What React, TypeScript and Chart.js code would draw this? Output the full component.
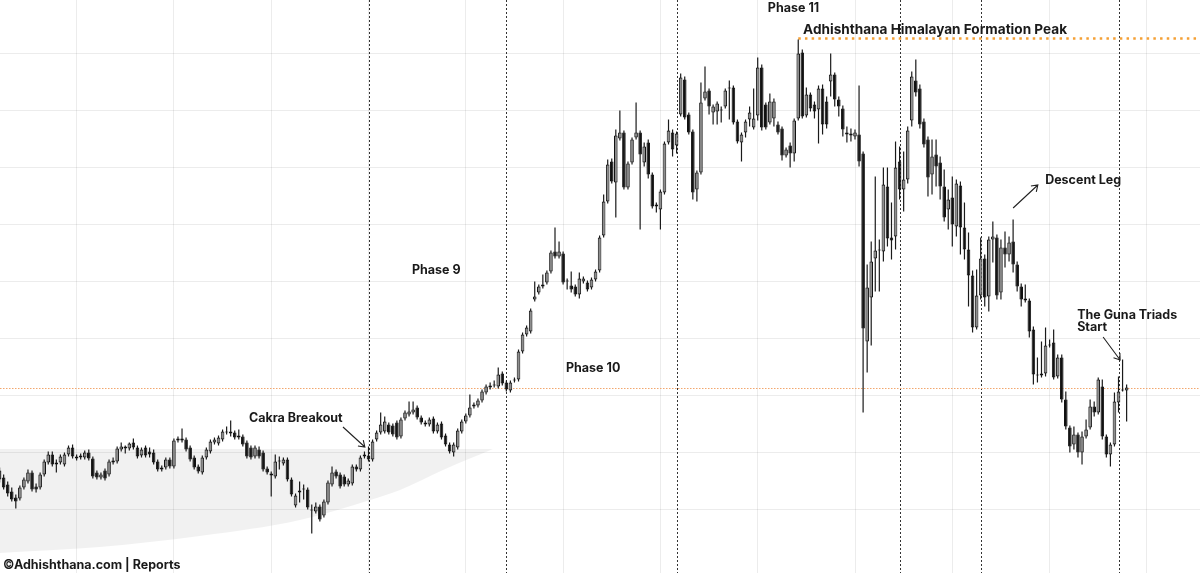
import { useEffect, useRef } from "react";
import { Chart, registerables } from "chart.js";

Chart.register(...registerables);

// ---- OHLC data (one candle per index) ----
const OPEN = [
  96,89,82,75,69,68,79,85,94,80,
  79,92,104,112,104,104,102,112,119,110,
  109,109,114,108,94,89,96,92,104,105,
  117,120,118,124,119,111,119,115,114,105,
  97,99,107,100,126,128,127,119,109,100,
  94,109,115,124,123,127,134,135,134,129,
  130,124,119,110,117,114,98,93,90,105,
  103,107,87,61,74,77,77,57,55,60,
  51,64,82,95,92,90,82,83,100,97,
  110,111,107,127,134,135,142,141,144,130,
  148,152,154,159,149,144,142,148,135,143,
  131,122,114,119,135,145,151,160,161,166,
  174,179,181,180,193,184,176,186,187,215,
  232,235,267,274,280,284,295,315,310,313,
  285,281,280,272,285,284,279,287,296,331,
  365,405,384,428,434,379,404,429,434,404,
  424,392,362,357,374,424,434,421,452,487,
  452,435,377,394,468,476,454,455,457,460,
  478,479,445,424,434,447,439,451,499,462,
  444,448,442,438,411,421,413,448,514,451,
  472,462,457,478,465,485,492,467,458,434,
  431,430,432,413,225,269,308,316,315,380,
  329,330,405,377,387,446,486,478,445,427,
  392,412,404,380,357,369,340,381,339,317,
  291,239,271,308,270,327,329,274,319,312,
  325,302,280,268,266,237,192,191,193,221,
  224,190,209,167,139,122,132,114,130,139,
  160,154,180,130,112,122,164,176,176,
];
const HIGH = [
  99,92,85,79,72,81,89,97,96,83,
  94,107,115,115,107,112,114,121,122,112,
  113,116,117,110,96,94,98,107,109,120,
  124,121,124,128,121,119,121,119,117,107,
  101,109,109,128,130,138,129,121,111,102,
  111,119,127,129,131,137,140,146,136,137,
  132,126,121,121,120,116,100,95,112,110,
  109,109,89,73,85,82,79,62,64,62,
  67,86,100,97,94,92,88,102,102,111,
  115,120,127,136,154,150,144,143,146,149,
  156,165,165,161,151,146,149,150,144,145,
  133,124,124,138,147,153,172,164,168,177,
  182,184,186,199,195,186,186,189,217,234,
  241,258,285,282,292,296,316,339,325,315,
  288,295,282,294,290,286,289,297,331,372,
  407,408,437,456,436,405,429,464,436,424,
  427,394,364,377,425,447,437,435,493,490,
  454,437,396,484,500,478,462,465,460,478,
  486,481,447,434,447,460,478,509,502,464,
  473,468,445,440,419,424,448,527,517,479,
  474,465,481,482,470,513,494,470,461,440,
  438,437,481,415,302,325,390,327,399,399,
  364,425,420,415,440,495,507,482,448,430,
  427,427,410,397,377,390,387,385,364,334,
  296,297,329,312,330,345,332,327,335,330,
  347,305,283,282,268,240,209,225,239,227,
  237,212,212,175,141,140,134,135,147,167,
  165,189,187,132,124,174,190,207,182,
];
const LOW = [
  84,77,70,65,58,66,77,83,75,74,
  77,90,102,100,94,102,100,110,108,106,
  107,107,106,88,87,87,86,90,102,103,
  115,113,116,117,108,109,109,109,102,95,
  95,97,98,98,124,124,115,105,97,93,
  92,107,113,122,121,125,132,130,127,127,
  120,108,107,108,108,95,92,70,88,97,
  101,85,70,59,64,67,57,33,53,45,
  49,62,80,88,78,80,80,81,95,95,
  108,105,105,125,132,133,132,130,127,128,
  146,150,152,147,142,140,140,133,133,127,
  120,113,110,117,133,143,149,158,159,164,
  172,177,179,178,181,175,174,184,185,213,
  230,233,265,272,278,282,293,308,308,282,
  277,274,270,268,283,275,277,285,294,329,
  363,383,349,426,377,377,402,427,337,400,
  388,358,354,337,372,422,410,413,450,447,
  432,367,365,392,466,452,442,442,444,458,
  447,442,423,405,429,440,437,446,436,437,
  442,440,432,406,409,399,405,446,448,449,
  455,448,423,432,438,470,460,450,430,424,
  425,427,400,154,194,221,275,275,305,320,
  307,317,367,355,383,440,470,438,419,370,
  372,380,367,345,337,320,330,312,307,260,
  234,237,267,260,255,304,267,267,299,305,
  294,275,260,264,229,182,184,189,190,219,
  187,188,164,137,114,117,109,102,128,137,
  150,152,127,109,100,120,154,175,145,
];
const CLOSE = [
  87,79,73,67,65,79,87,94,77,77,
  92,105,112,102,102,110,112,119,110,108,
  111,114,108,90,89,92,88,105,106,118,
  120,118,123,119,110,117,111,112,104,97,
  99,107,100,126,128,126,117,107,99,95,
  109,117,125,127,129,135,135,133,129,131,
  122,110,109,119,110,97,94,91,105,106,
  107,87,72,71,76,78,59,56,60,47,
  65,84,94,90,80,82,86,100,97,109,
  112,107,125,134,142,145,134,132,129,147,
  154,155,157,149,144,142,147,135,142,129,
  122,115,122,136,145,151,159,162,166,175,
  180,181,182,192,183,177,184,187,215,232,
  239,256,270,280,282,294,314,310,315,284,
  286,277,272,288,288,277,287,295,329,365,
  402,385,431,434,379,403,427,434,412,420,
  392,360,360,375,423,436,417,433,489,449,
  434,374,394,464,475,460,460,463,456,476,
  479,444,425,432,445,454,448,499,439,439,
  465,465,434,411,417,413,446,513,450,472,
  458,455,478,442,442,492,467,460,437,432,
  433,434,405,238,279,305,316,317,382,328,
  326,399,377,387,436,490,474,442,422,389,
  410,400,380,349,367,342,383,339,317,291,
  239,271,308,269,327,330,271,319,312,324,
  302,280,267,266,235,192,191,193,221,222,
  189,209,167,140,120,132,114,130,137,160,
  154,187,130,112,122,165,175,177,179,
];

// Grid / reference values (candle index on x, price on y)
const GRID_X = [19, 43, 67, 91, 115, 139, 163, 187, 211, 235, 259, 283];
const GRID_Y = [57, 114, 171, 228, 285, 342, 399, 456, 513];
const PHASE_LINES = [91, 125, 167, 222, 242, 276];
const PEAK_LEVEL = 528;
const PEAK_START = 197;
const GUNA_LEVEL = 178;

// Shaded base (lower curve; upper edge is a flat level)
const SHADE_X = [0.1, 24.8, 49.4, 74.1, 91.4, 98.8, 109.4, 121.7];
const SHADE_Y = [13.5, 19.5, 30.5, 46.5, 66.5, 76.5, 96.5, 117.5];
const SHADE_TOP = 117.5;

// Axis window
const X_MIN = 0.1;
const X_MAX = 296.1;
const Y_MIN = -6.5;
const Y_MAX = 566.5;

const LABELS = [
  { text: "Phase 11", x: 189.5, y: 558.5, size: 12.5 },
  { text: "Adhishthana Himalayan Formation Peak", x: 198.2, y: 536.5, size: 13.6 },
  { text: "Descent Leg", x: 257.9, y: 386.5, size: 12.5 },
  { text: "The Guna Triads", x: 265.8, y: 251.5, size: 12.5 },
  { text: "Start", x: 265.8, y: 239.5, size: 12.5 },
  { text: "Cakra Breakout", x: 61.5, y: 148.5, size: 12.5 },
  { text: "Phase 9", x: 101.7, y: 296.5, size: 12.5 },
  { text: "Phase 10", x: 139.7, y: 198.5, size: 12.5 },
  { text: "©Adhishthana.com | Reports", x: 0.84, y: 1.5, size: 12.5 },
];
const ARROWS = [
  { x1: 84.7, y1: 139.5, x2: 90.1, y2: 119.5 },
  { x1: 250.0, y1: 358.5, x2: 256.1, y2: 381.5 },
  { x1: 272.2, y1: 229.5, x2: 276.4, y2: 206.5 },
];

const UP = "#8e8e8e";
const DOWN = "#111111";

const overlayPlugin = {
  id: "overlay",
  beforeDatasetsDraw(chart: any) {
    const { ctx, chartArea, scales } = chart;
    const x = scales.x;
    ctx.save();
    ctx.strokeStyle = "#333333";
    ctx.lineWidth = 1;
    ctx.setLineDash([2, 2]);
    for (const v of PHASE_LINES) {
      const px = Math.round(x.getPixelForValue(v)) + 0.5;
      ctx.beginPath();
      ctx.moveTo(px, chartArea.top);
      ctx.lineTo(px, chartArea.bottom);
      ctx.stroke();
    }
    ctx.restore();
  },
  afterDraw(chart: any) {
    const { ctx, scales } = chart;
    const x = scales.x;
    const y = scales.y;
    ctx.save();
    ctx.fillStyle = "#1a1a1a";
    ctx.textAlign = "left";
    ctx.textBaseline = "middle";
    for (const l of LABELS) {
      ctx.font = `700 ${l.size}px Inter, 'Noto Sans', sans-serif`;
      ctx.fillText(l.text, x.getPixelForValue(l.x), y.getPixelForValue(l.y));
    }
    ctx.strokeStyle = "#222222";
    ctx.lineWidth = 1.1;
    for (const a of ARROWS) {
      const x1 = x.getPixelForValue(a.x1);
      const y1 = y.getPixelForValue(a.y1);
      const x2 = x.getPixelForValue(a.x2);
      const y2 = y.getPixelForValue(a.y2);
      const ang = Math.atan2(y2 - y1, x2 - x1);
      const h = 7;
      ctx.beginPath();
      ctx.moveTo(x1, y1);
      ctx.lineTo(x2, y2);
      ctx.moveTo(x2 - h * Math.cos(ang - 0.6), y2 - h * Math.sin(ang - 0.6));
      ctx.lineTo(x2, y2);
      ctx.lineTo(x2 - h * Math.cos(ang + 0.6), y2 - h * Math.sin(ang + 0.6));
      ctx.stroke();
    }
    ctx.restore();
  },
};

export default function App() {
  const ref = useRef<HTMLCanvasElement | null>(null);

  useEffect(() => {
    document.body.style.margin = "0";
    if (!ref.current) return;
    const idx = OPEN.map((_, i) => i);
    const bodies = idx.map((i) => ({ x: i, y: [OPEN[i], CLOSE[i]] }));
    const wicks = idx.map((i) => ({ x: i, y: [LOW[i], HIGH[i]] }));
    const colors = idx.map((i) => (CLOSE[i] >= OPEN[i] ? UP : DOWN));
    const gridCommon = {
      color: "rgba(0,0,0,0.075)",
      lineWidth: 1,
      drawTicks: false,
      offset: false,
    };
    const chart = new Chart(ref.current, {
      type: "bar",
      data: {
        datasets: [
          {
            type: "bar",
            data: bodies as any,
            backgroundColor: colors,
            borderColor: "#111111",
            borderWidth: 1,
            borderSkipped: false,
            barThickness: 3.6,
            grouped: false,
            inflateAmount: 0,
            order: 0,
          } as any,
          {
            type: "bar",
            data: wicks as any,
            backgroundColor: "#1a1a1a",
            borderWidth: 0,
            barThickness: 1.2,
            grouped: false,
            inflateAmount: 0,
            order: 1,
          } as any,
          {
            type: "line",
            data: [
              { x: PEAK_START, y: PEAK_LEVEL },
              { x: X_MAX, y: PEAK_LEVEL },
            ],
            borderColor: "#f5a035",
            borderWidth: 2.5,
            borderDash: [2.5, 4.2],
            pointRadius: 0,
            order: 2,
          } as any,
          {
            type: "line",
            data: [
              { x: X_MIN, y: GUNA_LEVEL },
              { x: X_MAX, y: GUNA_LEVEL },
            ],
            borderColor: "#f2a76e",
            borderWidth: 1,
            borderDash: [1.5, 1.5],
            pointRadius: 0,
            order: 3,
          } as any,
          {
            type: "line",
            data: SHADE_X.map((v, i) => ({ x: v, y: SHADE_Y[i] })),
            borderWidth: 0,
            borderColor: "rgba(0,0,0,0)",
            backgroundColor: "rgba(0,0,0,0.055)",
            fill: { value: SHADE_TOP },
            pointRadius: 0,
            cubicInterpolationMode: "monotone",
            order: 5,
          } as any,
        ],
      },
      options: {
        responsive: false,
        animation: false,
        devicePixelRatio: 1,
        events: [],
        layout: { padding: 0 },
        plugins: { legend: { display: false }, tooltip: { enabled: false } },
        scales: {
          x: {
            type: "linear",
            min: X_MIN,
            max: X_MAX,
            offset: false,
            grid: gridCommon,
            border: { display: false },
            ticks: { display: false },
            afterBuildTicks: (s: any) => {
              s.ticks = GRID_X.map((v) => ({ value: v }));
            },
          },
          y: {
            type: "linear",
            min: Y_MIN,
            max: Y_MAX,
            grid: gridCommon,
            border: { display: false },
            ticks: { display: false },
            afterBuildTicks: (s: any) => {
              s.ticks = GRID_Y.map((v) => ({ value: v }));
            },
          },
        },
      } as any,
      plugins: [overlayPlugin],
    });
    return () => chart.destroy();
  }, []);

  return (
    <div style={{ position: "absolute", left: 0, top: 0, width: 1200, height: 573, background: "#ffffff" }}>
      <canvas ref={ref} width={1200} height={573} style={{ display: "block" }} />
    </div>
  );
}
